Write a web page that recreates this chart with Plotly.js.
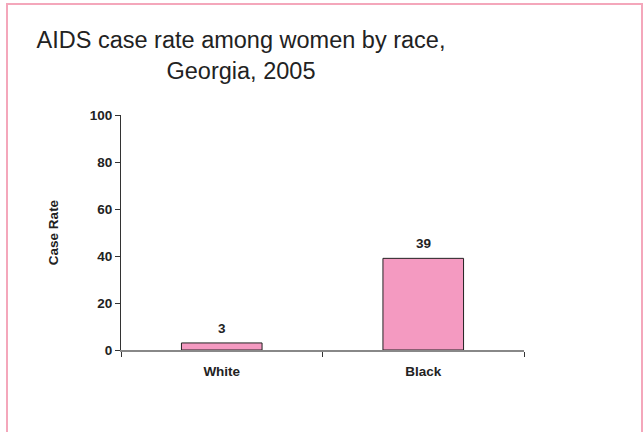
<!DOCTYPE html>
<html>
<head>
<meta charset="utf-8">
<script src="https://cdn.plot.ly/plotly-3.0.1.min.js"></script>
<style>
  html, body { margin: 0; padding: 0; background: #fff; }
  #wrap { position: relative; width: 643px; height: 432px; overflow: hidden; }
  #chart { width: 643px; height: 432px; }
  /* pink slide frame around the chart */
  #frame {
    position: absolute; left: 6px; top: 3px; width: 633px; height: 440px;
    border-left: 2px solid #f4a7bb; border-top: 2px solid #f4a7bb; border-right: 2px solid #f4a7bb;
    pointer-events: none;
  }
</style>
</head>
<body>
<div id="wrap">
  <div id="chart"></div>
  <div id="frame"></div>
</div>
<script>
// AIDS case rate per 100,000 women, Georgia 2005
const races = ["White", "Black"];
const caseRates = [3, 39];
const valueLabels = ["3", "39"];

const font = "'Liberation Sans', Arial, sans-serif";
const boldFont = { family: font, size: 13.5, color: "#222222", weight: "bold" };

const trace = {
  type: "bar",
  x: races,
  y: caseRates,
  width: 0.4,
  marker: { color: "#f49ac1", line: { color: "#222222", width: 1 } },
  hoverinfo: "skip"
};

// value labels sit just above each bar
const valueAnnotations = races.map((r, i) => ({
  x: r,
  y: caseRates[i],
  xref: "x",
  yref: "y",
  text: valueLabels[i],
  showarrow: false,
  yanchor: "bottom",
  yshift: 5,
  font: boldFont
}));

const layout = {
  width: 643,
  height: 432,
  margin: { l: 121, r: 119, t: 115, b: 82 },
  paper_bgcolor: "#ffffff",
  plot_bgcolor: "#ffffff",
  showlegend: false,
  title: {
    text: "AIDS case rate among women by race,<br>Georgia, 2005",
    font: { family: font, size: 23.5, color: "#222222" },
    x: 241 / 643,
    xanchor: "center",
    xref: "container",
    y: 1 - 48 / 432,
    yanchor: "middle",
    yref: "container"
  },
  annotations: valueAnnotations,
  xaxis: {
    type: "category",
    showline: true,
    linecolor: "#888888",
    linewidth: 2,
    ticks: "outside",
    tickson: "boundaries",
    ticklen: 5,
    tickcolor: "#333333",
    tickwidth: 1,
    ticklabelstandoff: 8,
    showgrid: false,
    zeroline: false,
    tickfont: boldFont,
    fixedrange: true
  },
  yaxis: {
    range: [0, 100],
    tickvals: [0, 20, 40, 60, 80, 100],
    showline: true,
    linecolor: "#333333",
    linewidth: 1,
    ticks: "outside",
    ticklen: 5,
    tickcolor: "#333333",
    showgrid: false,
    zeroline: false,
    tickfont: boldFont,
    title: {
      text: "Case Rate",
      font: boldFont,
      standoff: 28
    },
    fixedrange: true
  },
  bargap: 0.6
};

Plotly.newPlot("chart", [trace], layout, { displayModeBar: false, staticPlot: true });
</script>
</body>
</html>
